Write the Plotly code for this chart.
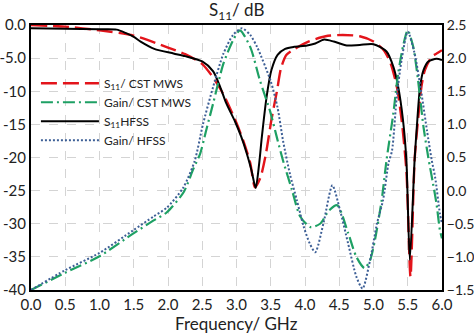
import plotly.graph_objects as go

# ---------------- data ----------------
f_s11_cst = [0, 0.5, 1.0, 1.5, 2.0, 2.25, 2.5, 2.65, 2.8, 3.0, 3.1, 3.2, 3.27, 3.35, 3.43,
             3.51, 3.59, 3.65, 3.73, 3.85, 4.05, 4.3, 4.55, 4.8, 5.0, 5.15, 5.25, 5.34,
             5.41, 5.48, 5.54, 5.6, 5.65, 5.7, 5.75, 5.85, 5.94, 6.0]
s11_cst = [0, -0.25, -0.8, -1.6, -3.4, -4.4, -5.9, -7.8, -10.3, -14.8, -17.5, -20.8, -24.5,
           -23.0, -19.4, -14.3, -10.0, -6.5, -4.5, -3.6, -2.5, -1.7, -1.5, -1.7, -2.5, -3.8,
           -5.8, -9.3, -14.3, -22.0, -38.0, -20.4, -14.3, -9.3, -6.8, -4.8, -4.2, -3.8]

f_s11_hfss = [0, 0.5, 1.0, 1.25, 1.38, 1.5, 1.6, 1.8, 2.08, 2.25, 2.5, 2.66, 2.76, 2.85,
              2.98, 3.07, 3.15, 3.22, 3.28, 3.33, 3.37, 3.44, 3.51, 3.6, 3.71, 3.84, 4.03,
              4.15, 4.28, 4.42, 4.61, 4.8, 5.0, 5.19, 5.29, 5.36, 5.43, 5.48, 5.53, 5.6,
              5.64, 5.68, 5.73, 5.8, 5.92, 6.0]
s11_hfss = [-0.5, -0.55, -0.65, -0.7, -1.2, -1.8, -2.5, -3.6, -4.3, -4.7, -5.5, -7.0, -9.3,
            -11.8, -14.6, -16.9, -19.4, -22.0, -24.6, -21.0, -16.9, -10.8, -6.8, -4.5, -3.6,
            -3.3, -3.1, -2.8, -2.2, -2.5, -3.1, -3.0, -2.9, -4.0, -6.3, -9.3, -14.3, -20.4,
            -35.5, -20.4, -14.3, -9.3, -6.8, -5.5, -5.1, -5.3]

f_gain_cst = [0, 0.5, 1.0, 1.49, 1.79, 1.98, 2.23, 2.37, 2.47, 2.56, 2.66, 2.81, 2.95,
              3.05, 3.2, 3.34, 3.49, 3.59, 3.68, 3.81, 3.93, 4.08, 4.22, 4.35, 4.47, 4.63,
              4.75, 4.87, 4.95, 5.02, 5.12, 5.19, 5.29, 5.36, 5.44, 5.5, 5.58, 5.65, 5.73,
              5.8, 5.87, 5.92, 5.97, 6.0]
gain_cst = [-1.5, -1.24, -0.99, -0.65, -0.45, -0.33, -0.02, 0.33, 0.56, 0.92, 1.32,
            1.92, 2.27, 2.42, 2.17, 1.67, 1.2, 0.8, 0.45, 0.01, -0.39, -0.55, -0.5, -0.3,
            -0.22, -0.64, -1.0, -1.17, -1.05, -0.75, -0.14, 0.46, 1.17, 1.77, 2.22, 2.42,
            2.17, 1.67, 0.96, 0.5, 0.1, -0.2, -0.6, -0.72]

f_gain_hfss = [0, 0.5, 1.0, 1.49, 1.79, 1.98, 2.22, 2.39, 2.51, 2.66, 2.81, 2.95, 3.08,
               3.2, 3.3, 3.5, 3.6, 3.68, 3.78, 3.88, 3.98, 4.07, 4.15, 4.27, 4.4, 4.51, 4.63,
               4.75, 4.84, 4.95, 5.05, 5.14, 5.22, 5.27, 5.34, 5.41, 5.5, 5.6, 5.7, 5.78,
               5.85, 5.9, 5.97, 6.0]
gain_hfss = [-1.5, -1.2, -0.94, -0.6, -0.39, -0.26, 0.04, 0.45, 1.0, 1.57, 2.07, 2.35,
             2.45, 2.35, 2.17, 1.65, 1.25, 0.75, 0.25, -0.14, -0.54, -0.8, -0.93, -0.49,
             0.08, -0.29, -0.8, -1.3, -1.48, -1.05, -0.5, -0.14, 0.42, 0.6, 1.42, 1.97, 2.4,
             2.07, 1.47, 0.91, 0.46, 0.2, -0.35, -0.5]

x_ticks = [0, 0.5, 1, 1.5, 2, 2.5, 3, 3.5, 4, 4.5, 5, 5.5, 6]
y_ticks = [0, -5, -10, -15, -20, -25, -30, -35, -40]
y_ticktext = ["0.0", "-5.0", "-10", "-15", "-20", "-25", "-30", "-35", "-40"]
y2_ticks = [2.5, 2.0, 1.5, 1.0, 0.5, 0.0, -0.5, -1.0, -1.5]

# ---------------- figure ----------------
FONT = "Lato, 'Open Sans', sans-serif"
fig = go.Figure()

fig.add_trace(go.Scatter(x=f_s11_cst, y=s11_cst, name="S<sub>11</sub>/ CST MWS",
                         mode="lines", line=dict(color="#e3141b", width=2.4, dash="16px,6px",
                                                 shape="spline", smoothing=0.7)))
fig.add_trace(go.Scatter(x=f_gain_cst, y=gain_cst, name="Gain/ CST MWS", yaxis="y2",
                         mode="lines", line=dict(color="#1ea064", width=2.2,
                                                 dash="12px,4px,2px,4px",
                                                 shape="spline", smoothing=0.7)))
fig.add_trace(go.Scatter(x=f_s11_hfss, y=s11_hfss, name="S<sub>11</sub>HFSS",
                         mode="lines", line=dict(color="#000000", width=2,
                                                 shape="spline", smoothing=0.7)))
fig.add_trace(go.Scatter(x=f_gain_hfss, y=gain_hfss, name="Gain/ HFSS", yaxis="y2",
                         mode="lines", line=dict(color="#3d5f96", width=2, dash="2px,2px",
                                                 shape="spline", smoothing=0.7)))

axis_common = dict(showline=True, linecolor="#000", linewidth=2, ticks="",
                   zeroline=False, automargin=False)

fig.update_layout(
    width=474, height=336,
    margin=dict(l=31, r=32, t=25, b=46, autoexpand=False),
    paper_bgcolor="white", plot_bgcolor="white",
    font=dict(family=FONT, color="#222"),
    showlegend=True,
    legend=dict(x=0.012, y=0.835, xanchor="left", yanchor="top",
                bgcolor="rgba(0,0,0,0)", font=dict(family=FONT, size=12, color="#222"),
                tracegroupgap=0, itemwidth=58),
    xaxis=dict(range=[0, 6], tickvals=x_ticks, tickformat=".1f",
               tickfont=dict(family=FONT, size=15, color="#222"),
               showgrid=True, gridcolor="#d4d4d4", griddash="dash", gridwidth=1,
               mirror=True, **axis_common),
    yaxis=dict(range=[-40, 0], tickvals=y_ticks, ticktext=y_ticktext,
               tickfont=dict(family=FONT, size=15, color="#222"),
               showgrid=True, gridcolor="#d4d4d4", griddash="dash", gridwidth=1,
               **axis_common),
    yaxis2=dict(range=[-1.5, 2.5], tickvals=y2_ticks, tickformat=".1f", overlaying="y",
                tickfont=dict(family=FONT, size=14, color="#222"),
                side="right", showgrid=False, **axis_common),
    annotations=[
        dict(text="S<sub>11</sub>/ dB", x=0.5, y=1.0, xref="paper", yref="paper",
             xanchor="center", yanchor="bottom", showarrow=False,
             font=dict(family=FONT, size=17, color="#222")),
        dict(text="Frequency/ GHz", x=0.5, y=-0.125, xref="paper", yref="paper",
             xanchor="center", yanchor="middle", showarrow=False,
             font=dict(family=FONT, size=17, color="#222")),
    ],
)

fig.write_html("out.html")
